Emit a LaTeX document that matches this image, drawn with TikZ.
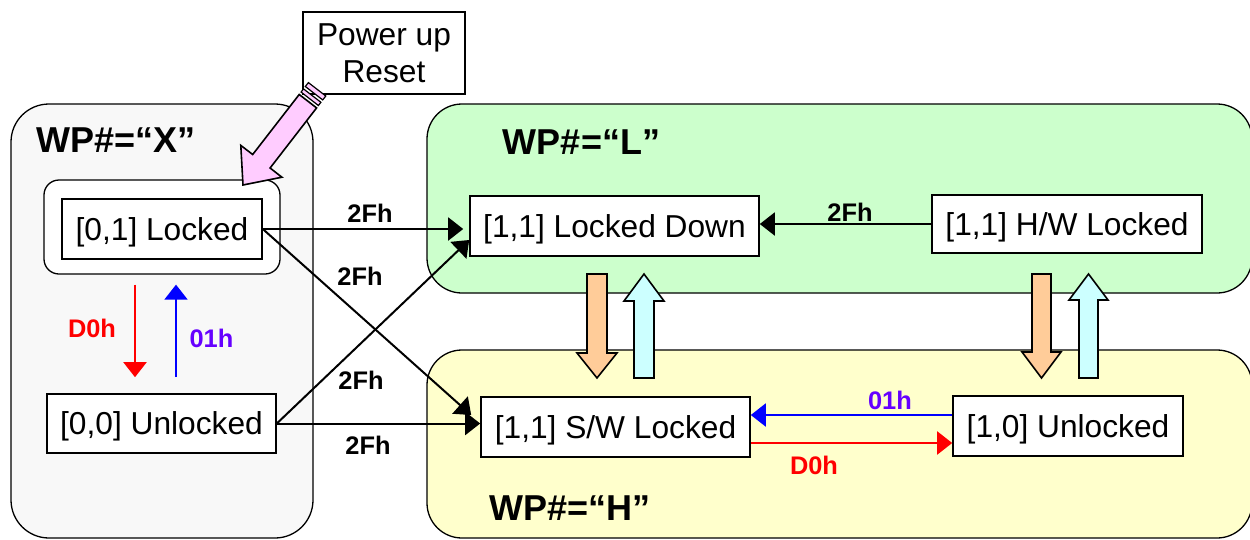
\documentclass[tikz,border=0pt]{standalone}
\usepackage{fontspec}
\setmainfont{Liberation Sans}
\usetikzlibrary{arrows.meta,calc}
\definecolor{grpXc}{HTML}{F8F8F8}
\definecolor{grpLc}{HTML}{CCFFCC}
\definecolor{grpHc}{HTML}{FFFFCC}
\definecolor{orangec}{HTML}{FFCC99}
\definecolor{cyanc}{HTML}{CCFFFF}
\definecolor{pinkc}{HTML}{FFCCFF}
\definecolor{violetc}{HTML}{6600FF}
\begin{document}
\begin{tikzpicture}[x=1pt,y=-1pt,
 group/.style={draw=black, line width=1.3pt, rounded corners=38pt, inner sep=0pt},
 statebox/.style={draw=black, fill=white, line width=1.6pt, inner sep=0pt, text height=22.7pt, text depth=0pt, font=\fontsize{31.7}{37}\selectfont},
 grptitle/.style={font=\bfseries\fontsize{36}{40}\selectfont, inner sep=0pt},
 lbl/.style={font=\bfseries\fontsize{25.4}{28}\selectfont, inner sep=0pt},
 conn/.style={line width=2pt, -{Triangle[length=15pt,width=23pt]}},
 block/.style={draw=black, line width=1.6pt, line join=miter}
]
\useasboundingbox (0,0) rectangle (1250,539);

% groups
\node[group, fill=grpXc, minimum width=302pt, minimum height=434pt] (gX) at (162,321) {};
\node[group, fill=grpLc, minimum width=825pt, minimum height=189pt, rounded corners=35pt] (gL) at (839.5,198.5) {};
\node[group, fill=grpHc, minimum width=825pt, minimum height=188pt, rounded corners=35pt] (gH) at (839.5,444) {};

\node[grptitle] (tX) at (116,140) {WP\#=“X”};
\node[grptitle] (tL) at (581.5,142) {WP\#=“L”};
\node[grptitle] (tH) at (570,508) {WP\#=“H”};

% inner rounded frame
\node[draw=black, fill=white, line width=1.3pt, rounded corners=15pt, minimum width=236pt, minimum height=94pt, inner sep=0pt] (inn) at (162,227) {};

% states
\node[statebox, minimum width=200pt, minimum height=60pt] (l01) at (162,229) {[0,1] Locked};
\node[statebox, minimum width=229pt, minimum height=59pt] (u00) at (161.5,423.5) {[0,0] Unlocked};
\node[statebox, minimum width=289pt, minimum height=60pt] (ld) at (614.5,226) {[1,1] Locked Down};
\node[statebox, minimum width=270pt, minimum height=58pt] (hw) at (1067,224) {[1,1] H/W Locked};
\node[statebox, minimum width=269pt, minimum height=60pt] (sw) at (615.5,427) {[1,1] S/W Locked};
\node[statebox, minimum width=230pt, minimum height=60pt] (u10) at (1068,426) {[1,0] Unlocked};

% connector end points
\coordinate (swTip) at ($(sw.west)+(-9,-12)$);
\coordinate (ldTip) at ($(ld.west)+(0,14)$);
\coordinate (bS) at ($(u10.west)+(0,-11)$);
\coordinate (rS) at ($(sw.east)+(0,16)$);
\coordinate (dS) at ($(inn.south)+(-27,10)$);
\coordinate (dE) at ($(u00.north)+(-26.5,-16)$);
\coordinate (uS) at ($(u00.north)+(14.5,-16)$);
\coordinate (uE) at ($(inn.south)+(14,10)$);

% connectors
\draw[conn, shorten >=6pt] (l01.east) -- (l01.east -| ld.west);
\draw[conn] (l01.east) -- (swTip);
\draw[conn] (u00.east) -- (ldTip);
\draw[conn] (u00.east) -- (u00.east -| sw.west);
\draw[conn] (hw.west) -- (hw.west -| ld.east);
\draw[conn, blue] (bS) -- (bS -| sw.east);
\draw[conn, red] (rS) -- (rS -| u10.west);
\draw[conn, red] (dS) -- (dE);
\draw[conn, blue] (uS) -- (uE);

% labels
\node[lbl] (a1) at (370,213) {2Fh};
\node[lbl] (a2) at (360,276) {2Fh};
\node[lbl] (a3) at (361,380) {2Fh};
\node[lbl] (a4) at (368,445) {2Fh};
\node[lbl] (a5) at (850,212) {2Fh};
\node[lbl, text=violetc] (a6) at (890,400) {01h};
\node[lbl, text=red] (a7) at (814,465) {D0h};
\node[lbl, text=red] (a8) at (92,328) {D0h};
\node[lbl, text=violetc] (a9) at (211.5,338) {01h};

% block arrows
\path[block, fill=orangec] (587,274) -- (607,274) -- (607,353) -- (617,353) -- (597,378) -- (577,353) -- (587,353) -- cycle;
\path[block, fill=cyanc] (644,274) -- (664,301) -- (654,301) -- (654,378) -- (634,378) -- (634,301) -- (624,301) -- cycle;
\path[block, fill=orangec] (1032,274) -- (1051,274) -- (1051,352) -- (1061,352) -- (1041.5,378) -- (1022,352) -- (1032,352) -- cycle;
\path[block, fill=cyanc] (1088.5,274) -- (1108,300) -- (1098,300) -- (1098,378) -- (1079,378) -- (1079,300) -- (1069,300) -- cycle;

% power up box
\node[draw=black, fill=white, line width=1.6pt, minimum width=162pt, minimum height=82pt, inner sep=0pt, align=center, font=\fontsize{31.7}{37}\selectfont] (pwr) at (384,53) {Power up\\Reset};

% pink striped arrow
\path[block, fill=pinkc] (243,185) -- (281.9,177.2) -- (270.1,168.0) -- (316.6,107.9) -- (299.2,94.5) -- (252.7,154.5) -- (240.8,145.4) -- cycle;
\path[block, fill=pinkc, line width=1.2pt] (318.4,105.5) -- (320.9,102.3) -- (303.5,88.9) -- (301.1,92.1) -- cycle;
\path[block, fill=pinkc, line width=1.2pt] (322.7,99.9) -- (325.8,96.0) -- (308.4,82.6) -- (305.3,86.5) -- cycle;
\end{tikzpicture}
\end{document}
